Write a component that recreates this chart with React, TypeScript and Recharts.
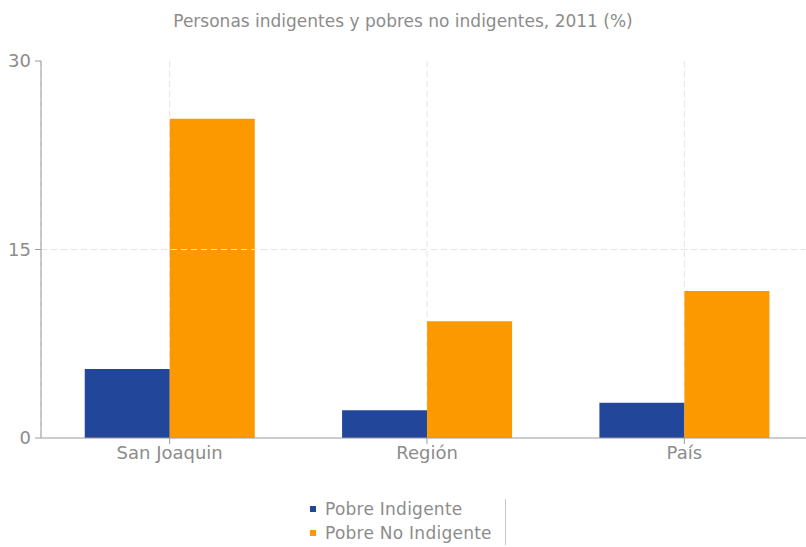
import React from "react";
import { BarChart, Bar, XAxis, YAxis, CartesianGrid, Legend, ReferenceLine } from "recharts";

const categories = ["San Joaquin", "Región", "País"];
const pobreIndigente = [5.5, 2.2, 2.8];
const pobreNoIndigente = [25.4, 9.3, 11.7];
const yTicks = [0, 15, 30];
const gridValue = 15;

const data = categories.map((c, i) => ({
  name: c,
  indigente: pobreIndigente[i],
  noIndigente: pobreNoIndigente[i],
}));

const FONT = "'DejaVu Sans', Verdana, sans-serif";
const TEXT = "#8c8c8c";

const LegendContent = (props: any) => {
  const items = props.payload || [];
  return (
    <div style={{ display: "flex", alignItems: "stretch", fontFamily: FONT }}>
      <div style={{ paddingRight: 13 }}>
        {items.map((it: any) => (
          <div key={it.value} style={{ display: "flex", alignItems: "center", height: 24, fontSize: 17, color: TEXT, whiteSpace: "nowrap" }}>
            <span style={{ display: "inline-block", width: 6, height: 6, background: it.color, marginRight: 9 }} />
            <span style={{ letterSpacing: 0.25 }}>{it.value}</span>
          </div>
        ))}
      </div>
      <div style={{ width: 1, background: "#c8c8c8", marginTop: 2 }} />
    </div>
  );
};

export default function App() {
  return (
    <div style={{ position: "absolute", left: 0, top: 0, width: 806, height: 547, background: "#fff", overflow: "hidden" }}>
      <div
        style={{
          position: "absolute",
          top: 11,
          left: 0,
          width: 806,
          textAlign: "center",
          fontFamily: FONT,
          fontSize: 17,
          color: TEXT,
        }}
      >
        Personas indigentes y pobres no indigentes, 2011 (%)
      </div>
      <BarChart
        width={806}
        height={547}
        data={data}
        margin={{ top: 61, right: -7, left: 0, bottom: 79 }}
        barGap={0}
        barCategoryGap="17%"
      >
        <CartesianGrid stroke="#e4e4e4" strokeDasharray="6 4" horizontal={false} />
        <ReferenceLine y={gridValue} stroke="#e4e4e4" strokeDasharray="6 4" />
        <XAxis
          dataKey="name"
          height={30}
          tick={{ fill: TEXT, fontSize: 18, fontFamily: FONT }}
          stroke="#9a9a9a"
          tickSize={6}
          tickMargin={2}
        />
        <YAxis
          width={41}
          domain={[0, 30]}
          ticks={yTicks}
          tick={{ fill: TEXT, fontSize: 18, fontFamily: FONT }}
          stroke="#9a9a9a"
          tickSize={6}
          tickMargin={4}
        />
        <Legend
          layout="horizontal"
          verticalAlign="middle"
          align="center"
          content={<LegendContent />}
          wrapperStyle={{ top: 497, left: 310, width: "auto" }}
        />
        <Bar dataKey="indigente" name="Pobre Indigente" fill="#22469a" isAnimationActive={false} />
        <Bar dataKey="noIndigente" name="Pobre No Indigente" fill="#fc9900" isAnimationActive={false} />
      </BarChart>
    </div>
  );
}
